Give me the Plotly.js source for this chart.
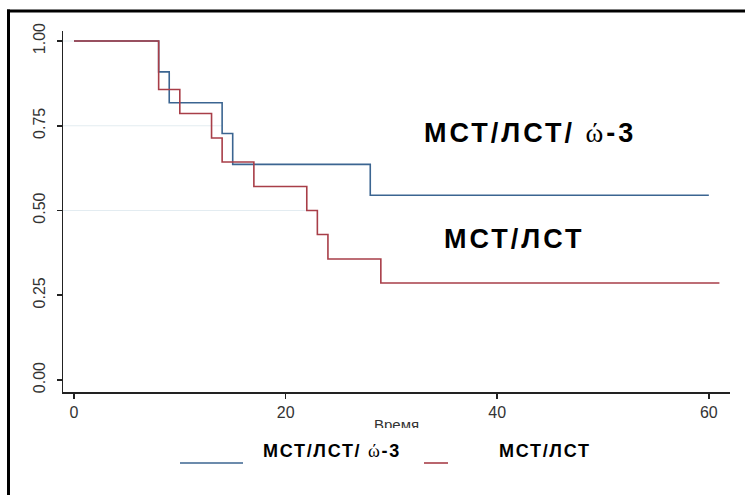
<!DOCTYPE html>
<html>
<head>
<meta charset="utf-8">
<script src="https://cdn.plot.ly/plotly-3.0.1.min.js"></script>
<style>
  html, body { margin: 0; padding: 0; background: #ffffff; }
  #chart { width: 745px; height: 495px; }
</style>
</head>
<body>
<div id="chart"></div>
<script>
// Kaplan–Meier survival estimates (step functions)
const groupOmegaName = 'МСТ/ЛСТ/ ώ-3';
const groupOmegaTime = [0, 8, 9, 14, 15, 28, 60];
const groupOmegaSurv = [1.000, 0.909, 0.818, 0.727, 0.636, 0.545, 0.545];

const groupBaseName = 'МСТ/ЛСТ';
const groupBaseTime = [0, 8, 10, 13, 14, 17, 22, 23, 24, 29, 61];
const groupBaseSurv = [1.000, 0.857, 0.786, 0.714, 0.643, 0.571, 0.500, 0.429, 0.357, 0.286, 0.286];

const xTickVals = [0, 20, 40, 60];
const yTickVals = [0, 0.25, 0.5, 0.75, 1];
const xAxisTitle = 'Время';

const blue = '#3b6591';
const red = '#a83e48';
const FONT = 'Liberation Sans, Arial, sans-serif';
const styled = (s, ls) => '<span style="letter-spacing:' + ls + 'px">' +
  s.replace('ώ', '</span><span style="font-family:Liberation Serif;font-weight:normal;letter-spacing:' + ls + 'px">ώ</span><span style="letter-spacing:' + ls + 'px">') +
  '</span>';

// pixel helpers for the figure frame (plot area x: 63..730, y: 31..440)
const px = x => (x - 63) / 667;
const py = y => (440 - y) / 409;

const traces = [
  { x: groupOmegaTime, y: groupOmegaSurv, type: 'scatter', mode: 'lines',
    line: { shape: 'hv', color: blue, width: 1.6 }, name: groupOmegaName,
    showlegend: false, hoverinfo: 'skip' },
  { x: groupBaseTime, y: groupBaseSurv, type: 'scatter', mode: 'lines',
    line: { shape: 'hv', color: red, width: 1.6 }, name: groupBaseName,
    showlegend: false, hoverinfo: 'skip' },
  // x-axis title, clipped at the bottom as in the reference
  { x: [0.5], y: [0.1], xaxis: 'x2', yaxis: 'y2', type: 'scatter', mode: 'text',
    text: [xAxisTitle], textposition: 'middle center', cliponaxis: true,
    textfont: { family: FONT, size: 15, color: '#333333' },
    showlegend: false, hoverinfo: 'skip' }
];

const gridStyle = { color: '#e3ecf1', width: 1 };

const layout = {
  width: 745, height: 495,
  margin: { l: 63, r: 15, t: 31, b: 55, pad: 0 },
  paper_bgcolor: '#ffffff', plot_bgcolor: '#ffffff',
  showlegend: false,
  font: { family: FONT, color: '#333333' },
  xaxis: {
    domain: [0, 1], range: [-1.04, 62.0], anchor: 'y',
    tickvals: xTickVals, ticktext: xTickVals.map(String),
    ticks: 'outside', ticklen: 5, tickwidth: 1.5, tickcolor: '#222222',
    showline: true, linecolor: '#222222', linewidth: 1.5,
    showgrid: false, zeroline: false,
    tickfont: { family: FONT, size: 16, color: '#333333' }
  },
  yaxis: {
    domain: [py(392), 1], range: [-0.0355, 1.0296], anchor: 'x',
    tickvals: yTickVals, tickformat: '.2f', tickangle: -90,
    ticks: 'outside', ticklen: 5, tickwidth: 1.5, tickcolor: '#222222',
    showline: true, linecolor: '#222222', linewidth: 1.5,
    showgrid: false, zeroline: false,
    ticklabelstandoff: 5,
    tickfont: { family: FONT, size: 16, color: '#333333' }
  },
  xaxis2: { domain: [0, 1], range: [0, 1], anchor: 'y2', visible: false, fixedrange: true },
  yaxis2: { domain: [py(428), py(410)], range: [0, 1], anchor: 'x2', visible: false, fixedrange: true },
  shapes: [
    // faint gridlines (only partly visible in the reference)
    { type: 'line', xref: 'paper', yref: 'y', x0: 0, x1: px(158), y0: yTickVals[4], y1: yTickVals[4], line: gridStyle, layer: 'below' },
    { type: 'line', xref: 'paper', yref: 'y', x0: 0, x1: px(223), y0: yTickVals[3], y1: yTickVals[3], line: gridStyle, layer: 'below' },
    { type: 'line', xref: 'paper', yref: 'y', x0: 0, x1: px(308), y0: yTickVals[2], y1: yTickVals[2], line: gridStyle, layer: 'below' },
    // figure frame (left and top edges)
    { type: 'line', xref: 'paper', yref: 'paper', x0: px(8.5), x1: px(8.5), y0: py(9.5), y1: py(500),
      line: { color: '#000000', width: 3 } },
    { type: 'line', xref: 'paper', yref: 'paper', x0: px(7), x1: px(750), y0: py(11), y1: py(11),
      line: { color: '#000000', width: 3 } },
    // legend samples
    { type: 'line', xref: 'paper', yref: 'paper', x0: px(180), x1: px(243), y0: py(463), y1: py(463),
      line: { color: blue, width: 1.6 } },
    { type: 'line', xref: 'paper', yref: 'paper', x0: px(424), x1: px(448), y0: py(463), y1: py(463),
      line: { color: red, width: 1.6 } }
  ],
  annotations: [
    { xref: 'paper', yref: 'paper', x: px(530), y: py(133), text: styled(groupOmegaName, 3),
      showarrow: false, xanchor: 'center', yanchor: 'middle',
      font: { family: FONT, size: 27, color: '#000000', weight: 'bold' } },
    { xref: 'paper', yref: 'paper', x: px(514), y: py(239), text: styled(groupBaseName, 3),
      showarrow: false, xanchor: 'center', yanchor: 'middle',
      font: { family: FONT, size: 27, color: '#000000', weight: 'bold' } },
    { xref: 'paper', yref: 'paper', x: px(332), y: py(451), text: styled(groupOmegaName, 1.7),
      showarrow: false, xanchor: 'center', yanchor: 'middle',
      font: { family: FONT, size: 18, color: '#000000', weight: 'bold' } },
    { xref: 'paper', yref: 'paper', x: px(545), y: py(451), text: styled(groupBaseName, 1.7),
      showarrow: false, xanchor: 'center', yanchor: 'middle',
      font: { family: FONT, size: 18, color: '#000000', weight: 'bold' } }
  ]
};

Plotly.newPlot('chart', traces, layout, { staticPlot: true, displayModeBar: false });
</script>
</body>
</html>
